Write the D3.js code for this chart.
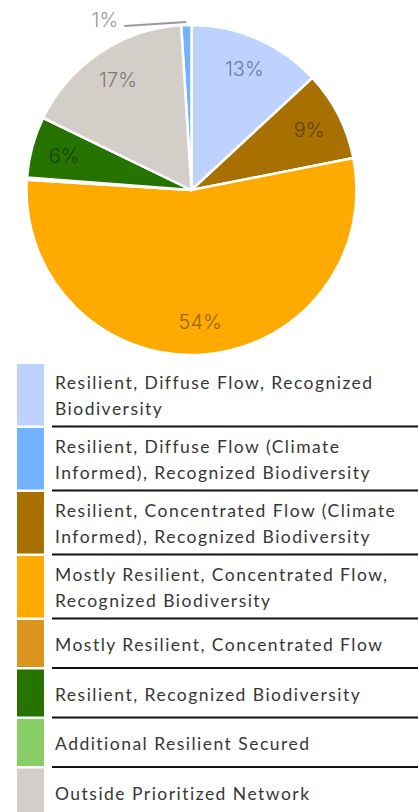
<!DOCTYPE html>
<html>
<head>
<meta charset="utf-8">
<script src="https://cdn.jsdelivr.net/npm/d3@7"></script>
<style>
  html, body { margin: 0; padding: 0; background: #fff; }
  svg { display: block; }
</style>
</head>
<body>
<svg id="chart" width="418" height="812"></svg>
<script>
// ---- data (legend order) ----
const categories = [
  "Resilient, Diffuse Flow, Recognized Biodiversity",
  "Resilient, Diffuse Flow (Climate Informed), Recognized Biodiversity",
  "Resilient, Concentrated Flow (Climate Informed), Recognized Biodiversity",
  "Mostly Resilient, Concentrated Flow, Recognized Biodiversity",
  "Mostly Resilient, Concentrated Flow",
  "Resilient, Recognized Biodiversity",
  "Additional Resilient Secured",
  "Outside Prioritized Network"
];
const legendLines = [
  ["Resilient, Diffuse Flow, Recognized", "Biodiversity"],
  ["Resilient, Diffuse Flow (Climate", "Informed), Recognized Biodiversity"],
  ["Resilient, Concentrated Flow (Climate", "Informed), Recognized Biodiversity"],
  ["Mostly Resilient, Concentrated Flow,", "Recognized Biodiversity"],
  ["Mostly Resilient, Concentrated Flow"],
  ["Resilient, Recognized Biodiversity"],
  ["Additional Resilient Secured"],
  ["Outside Prioritized Network"]
];
const values = [13.1, 1.0, 8.8, 54.1, 0.2, 6.0, 0.0, 16.8];   // percent
const colors = ["#BED2FF", "#73B2FF", "#A87000", "#FFAA00", "#D9951C", "#267300", "#89CD66", "#D3CFC8"];
// clockwise drawing order of the slices in the pie (indices into the arrays above)
const pieOrder = [0, 2, 3, 4, 5, 6, 7, 1];

// ---- layout ----
const svg = d3.select("#chart");
const cx = 191.5, cy = 190, R = 165;

const data = categories.map((c, i) => ({ name: c, value: values[i], color: colors[i], idx: i }));
const rank = new Map(pieOrder.map((k, r) => [k, r]));

const pie = d3.pie()
  .value(d => d.value)
  .sort((a, b) => rank.get(a.idx) - rank.get(b.idx));

const arcs = pie(data);
const arc = d3.arc().innerRadius(0).outerRadius(R);
const labelArc = d3.arc().innerRadius(R * 0.8).outerRadius(R * 0.8);

const g = svg.append("g").attr("transform", `translate(${cx},${cy})`);

g.selectAll("path.slice")
  .data(arcs)
  .join("path")
  .attr("class", "slice")
  .attr("d", arc)
  .attr("fill", d => d.data.color)
  .attr("stroke", "#fff")
  .attr("stroke-width", 2.5)
  .attr("stroke-linejoin", "round");

const fmt = v => Math.round(v) + "%";
const labelFont = "Inter, 'Open Sans', Lato, sans-serif";

// inside labels for slices >= 2%
const inside = arcs.filter(d => d.data.value >= 2);
g.selectAll("text.plabel")
  .data(inside)
  .join("text")
  .attr("class", "plabel")
  .attr("transform", d => `translate(${labelArc.centroid(d)})`)
  .attr("text-anchor", "middle")
  .attr("dominant-baseline", "central")
  .attr("font-family", labelFont)
  .attr("font-weight", 300)
  .attr("font-size", 20)
  .attr("fill", d => d3.color(d.data.color).darker(1.5))
  .text(d => fmt(d.data.value));

// outside label with leader line for small visible slices (>=0.5% and <2%)
const outside = arcs.filter(d => d.data.value >= 0.5 && d.data.value < 2);
outside.forEach(d => {
  const mid = (d.startAngle + d.endAngle) / 2;
  const p0 = [Math.sin(mid) * (R + 3), -Math.cos(mid) * (R + 3)];
  const p1 = [p0[0] - 62, p0[1] + 4];
  g.append("line")
    .attr("x1", p0[0]).attr("y1", p0[1])
    .attr("x2", p1[0]).attr("y2", p1[1])
    .attr("stroke", "#9a9a9a")
    .attr("stroke-width", 2);
  g.append("text")
    .attr("x", p1[0] - 6).attr("y", p1[1] - 6)
    .attr("text-anchor", "end")
    .attr("dominant-baseline", "central")
    .attr("font-family", labelFont)
    .attr("font-weight", 300)
    .attr("font-size", 20)
    .attr("fill", "#999")
    .text(fmt(d.data.value));
});

// ---- legend ----
const legendFont = "Lato, 'Open Sans', sans-serif";
const legendSize = 17.5;
// widen the text to the reference's wide geometric face via letter-spacing
const probe = svg.append("text")
  .attr("font-family", legendFont).attr("font-size", legendSize)
  .text(legendLines[0][0]);
const probeW = probe.node().getComputedTextLength();
probe.remove();
const targetW = 318;
const spacing = (targetW - probeW) / legendLines[0][0].length;

const legendTop = 364;
const pitch2 = 64, pitch1 = 49.5;
let y = legendTop;
const legend = svg.append("g").attr("class", "legend");
legendLines.forEach((lines, i) => {
  const h = lines.length > 1 ? pitch2 : pitch1;
  const item = legend.append("g").attr("transform", `translate(0,${y})`);
  item.append("rect")
    .attr("x", 17).attr("y", 0)
    .attr("width", 27).attr("height", h - 2.5)
    .attr("fill", colors[i]);
  const t = item.append("text")
    .attr("font-family", legendFont)
    .attr("font-size", legendSize)
    .attr("letter-spacing", spacing)
    .attr("fill", "#363636");
  if (lines.length > 1) {
    lines.forEach((ln, k) => {
      t.append("tspan").attr("x", 55).attr("y", 25 + k * 26).text(ln);
    });
  } else {
    t.append("tspan").attr("x", 55).attr("y", 31).text(lines[0]);
  }
  if (i < legendLines.length - 1) {
    item.append("line")
      .attr("x1", 52).attr("x2", 418)
      .attr("y1", h - 1.5).attr("y2", h - 1.5)
      .attr("stroke", "#111")
      .attr("stroke-width", 2);
  }
  y += h;
});
</script>
</body>
</html>
